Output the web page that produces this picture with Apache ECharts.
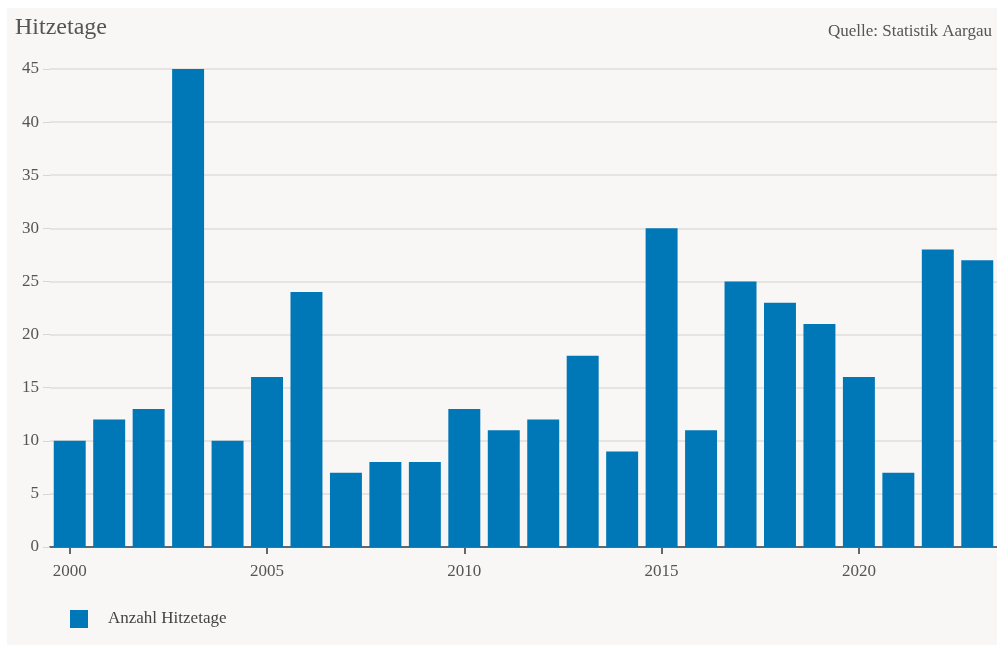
<!DOCTYPE html>
<html>
<head>
<meta charset="utf-8">
<script src="https://cdn.jsdelivr.net/npm/echarts@6/dist/echarts.min.js"></script>
<style>
  html, body { margin: 0; padding: 0; background: #ffffff; }
  #chart { position: absolute; left: 7px; top: 8px; width: 990px; height: 637px; background: #f8f7f5; }
</style>
</head>
<body>
<div id="chart"></div>
<script>
const jahre = ['2000','2001','2002','2003','2004','2005','2006','2007','2008','2009','2010','2011',
               '2012','2013','2014','2015','2016','2017','2018','2019','2020','2021','2022','2023'];
const hitzetage = [10, 12, 13, 45, 10, 16, 24, 7, 8, 8, 13, 11, 12, 18, 9, 30, 11, 25, 23, 21, 16, 7, 28, 27];
const yTicks = [0, 5, 10, 15, 20, 25, 30, 35, 40, 45];

const schrift = '"Liberation Serif", "DejaVu Serif", serif';

const chart = echarts.init(document.getElementById('chart'));

chart.setOption({
    backgroundColor: '#f8f7f5',
    animation: false,
    textStyle: { fontFamily: schrift },
    title: [
        {
            text: 'Hitzetage',
            left: 3, top: 3,
            textStyle: { fontFamily: schrift, fontSize: 24, fontWeight: 'normal', color: '#555' }
        },
        {
            text: 'Quelle: Statistik Aargau',
            right: 0, top: 10,
            textStyle: { fontFamily: schrift, fontSize: 17, fontWeight: 'normal', color: '#555' }
        }
    ],
    legend: {
        left: 58, top: 597,
        itemWidth: 18, itemHeight: 18, itemGap: 20,
        icon: 'rect',
        textStyle: { fontFamily: schrift, fontSize: 17, color: '#444', padding: [0, 0, 0, 15] },
        data: ['Anzahl Hitzetage']
    },
    grid: { left: 43, right: 0, top: 61, bottom: 98 },
    xAxis: {
        type: 'category',
        data: jahre,
        axisLine: { lineStyle: { color: '#666', width: 2 } },
        axisTick: { show: true, alignWithLabel: true, interval: 4, length: 7, lineStyle: { color: '#666', width: 2 } },
        axisLabel: { interval: 4, fontSize: 17, color: '#555', margin: 16, fontFamily: schrift }
    },
    yAxis: {
        type: 'value',
        min: yTicks[0], max: yTicks[yTicks.length - 1], interval: 5,
        axisLine: { show: false },
        axisTick: { show: true, length: 7, lineStyle: { color: '#d8d6d3', width: 1 } },
        axisLabel: { fontSize: 17, color: '#555', margin: 11, fontFamily: schrift },
        splitLine: { lineStyle: { color: '#e6e4e1', width: 2 } }
    },
    series: [{
        name: 'Anzahl Hitzetage',
        type: 'bar',
        data: hitzetage,
        barCategoryGap: '19%',
        itemStyle: { color: '#0077b6' }
    }]
});
</script>
</body>
</html>
